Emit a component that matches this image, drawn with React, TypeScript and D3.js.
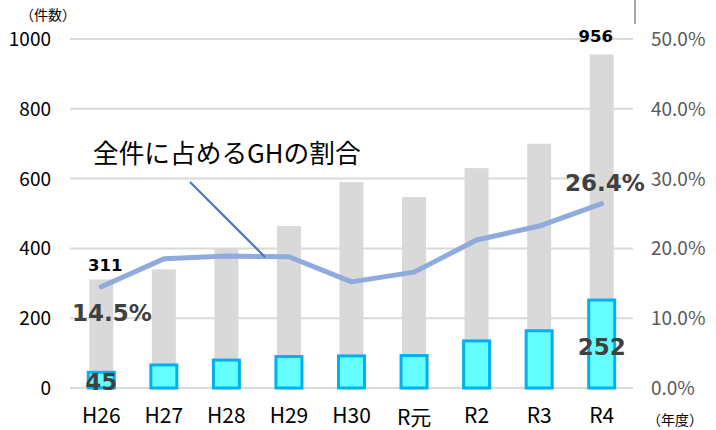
import React from "react";
import * as d3 from "d3";

const categories = ["H26", "H27", "H28", "H29", "H30", "R元", "R2", "R3", "R4"];
const totalCounts = [311, 340, 401, 464, 590, 547, 630, 700, 956];
const ghCounts = [45, 66, 80, 90, 92, 93, 135, 164, 252];
const ghRatio = [14.5, 18.5, 18.9, 18.8, 15.2, 16.6, 21.2, 23.2, 26.4];
const leftTicks = [0, 200, 400, 600, 800, 1000];
const rightTicks = [0, 10, 20, 30, 40, 50];

const W = 716;
const H = 430;
const plotL = 70;
const plotR = 633;
const plotTop = 39;
const plotBottom = 388;

export default function App() {
  const x = d3.scaleBand<string>().domain(categories).range([plotL, plotR]).padding(0);
  const yL = d3.scaleLinear().domain([0, 1000]).range([plotBottom, plotTop]);
  const yR = d3.scaleLinear().domain([0, 50]).range([plotBottom, plotTop]);
  const cx = (c: string) => (x(c) as number) + x.bandwidth() / 2;
  const grayW = 24;
  const blueW = 26;
  const line = d3
    .line<number>()
    .x((_, i) => cx(categories[i]))
    .y((d) => yR(d));
  const jp = "'Noto Sans CJK JP', 'Noto Sans', sans-serif";
  const bold = "'DejaVu Sans', Verdana, sans-serif";
  const last = categories.length - 1;
  return (
    <svg width={W} height={H} style={{ position: "absolute", left: 0, top: 0, background: "#fff" }}>
      <line x1={635} x2={635} y1={0} y2={24} stroke="#a6a6a6" strokeWidth={2} />
      {leftTicks.map((t) => (
        <line key={t} x1={plotL} x2={plotR} y1={yL(t)} y2={yL(t)} stroke="#d9d9d9" strokeWidth={2} />
      ))}
      {leftTicks.map((t) => (
        <text key={"l" + t} x={51} y={yL(t) + 7} textAnchor="end" fontFamily={jp} fontSize={19} fill="#000">
          {t}
        </text>
      ))}
      {rightTicks.map((t) => (
        <text key={"r" + t} x={651} y={yR(t) + 7} textAnchor="start" fontFamily={jp} fontSize={19} fill="#595959">
          {t.toFixed(1) + "%"}
        </text>
      ))}
      <text x={20} y={20} fontFamily={jp} fontSize={14} fill="#000">（件数）</text>
      <text x={647} y={425} fontFamily={jp} fontSize={14} fill="#000">（年度）</text>
      {categories.map((c, i) => (
        <rect key={"g" + c} x={cx(c) - grayW / 2} y={yL(totalCounts[i])} width={grayW} height={plotBottom - yL(totalCounts[i])} fill="#d9d9d9" />
      ))}
      {categories.map((c, i) => (
        <rect
          key={"b" + c}
          x={cx(c) - blueW / 2}
          y={yL(ghCounts[i])}
          width={blueW}
          height={plotBottom - yL(ghCounts[i])}
          fill="#66ffff"
          stroke="#00b0f0"
          strokeWidth={3}
        />
      ))}
      <path d={line(ghRatio) || ""} fill="none" stroke="#8faadc" strokeWidth={5} strokeLinejoin="round" strokeLinecap="round" />
      {categories.map((c, i) => (
        <text key={"x" + c} x={cx(c)} y={c === "R元" ? 425 : 423} textAnchor="middle" fontFamily={jp} fontSize={21} fill="#000">
          {c}
        </text>
      ))}
      <line x1={190} y1={182} x2={265} y2={257} stroke="#4472c4" strokeWidth={2} />
      <text x={93} y={163} fontFamily={jp} fontSize={25.7} fill="#000">全件に占めるGHの割合</text>
      <text x={cx(categories[0]) + 4} y={yL(totalCounts[0]) - 8} textAnchor="middle" fontFamily={bold} fontWeight="bold" fontSize={16.5} fill="#000">
        {totalCounts[0]}
      </text>
      <text x={cx(categories[last]) - 6} y={yL(totalCounts[last]) - 12} textAnchor="middle" fontFamily={bold} fontWeight="bold" fontSize={16.5} fill="#000">
        {totalCounts[last]}
      </text>
      <text x={112} y={321} textAnchor="middle" fontFamily={bold} fontWeight="bold" fontSize={23} fill="#404040">
        {ghRatio[0].toFixed(1) + "%"}
      </text>
      <text x={605} y={191} textAnchor="middle" fontFamily={bold} fontWeight="bold" fontSize={23} fill="#404040">
        {ghRatio[last].toFixed(1) + "%"}
      </text>
      <text x={cx(categories[0])} y={390} textAnchor="middle" fontFamily={bold} fontWeight="bold" fontSize={23} fill="#404040">
        {ghCounts[0]}
      </text>
      <text x={cx(categories[last])} y={355} textAnchor="middle" fontFamily={bold} fontWeight="bold" fontSize={23} fill="#404040">
        {ghCounts[last]}
      </text>
    </svg>
  );
}
